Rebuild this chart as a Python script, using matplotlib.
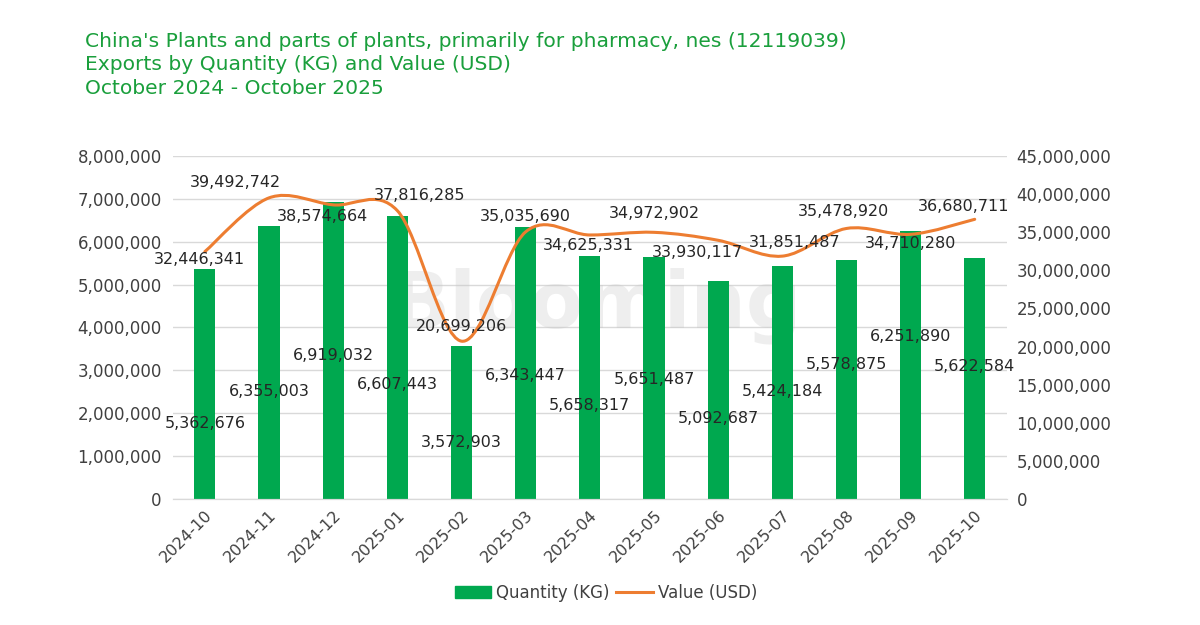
import matplotlib
matplotlib.use("Agg")
import matplotlib.pyplot as plt
from matplotlib.path import Path
from matplotlib.patches import PathPatch, Patch
from matplotlib.lines import Line2D
from matplotlib.ticker import MultipleLocator, FuncFormatter

plt.rcParams['font.family'] = ['DejaVu Sans']

# data
months = ['2024-10', '2024-11', '2024-12', '2025-01', '2025-02', '2025-03', '2025-04',
          '2025-05', '2025-06', '2025-07', '2025-08', '2025-09', '2025-10']
quantity_kg = [5362676, 6355003, 6919032, 6607443, 3572903, 6343447, 5658317,
               5651487, 5092687, 5424184, 5578875, 6251890, 5622584]
value_usd = [32446341, 39492742, 38574664, 37816285, 20699206, 35035690, 34625331,
             34972902, 33930117, 31851487, 35478920, 34710280, 36680711]

# where the data labels sit (Excel placed them a bit all over the place)
qty_label_y = [1.75e6, 2.50e6, 3.34e6, 2.68e6, 1.31e6, 2.89e6, 2.17e6,
               2.78e6, 1.87e6, 2.50e6, 3.13e6, 3.78e6, 3.08e6]
val_label_dx = [-0.08, -0.52, -0.17, 0.34, 0.0, 0.0, -0.03,
                0.0, -0.33, 0.2, -0.05, 0.0, -0.17]
val_label_y = [31.4e6, 41.5e6, 37.0e6, 39.75e6, 22.6e6, 37.1e6, 33.3e6,
               37.5e6, 32.3e6, 33.7e6, 37.65e6, 33.45e6, 38.3e6]

GREEN = '#00a84f'
ORANGE = '#ed7d31'
TITLE_GREEN = '#1a9f3c'
TXT = '#262626'
GRID = '#d9d9d9'


def smooth_path(xs, ys):
    # excel style smoothed line: catmull-rom as cubic bezier segments
    pts = list(zip(xs, ys))
    n = len(pts)
    verts = [pts[0]]
    codes = [Path.MOVETO]
    for i in range(n - 1):
        p0 = pts[i - 1] if i > 0 else pts[i]
        p1 = pts[i]
        p2 = pts[i + 1]
        p3 = pts[i + 2] if i + 2 < n else pts[i + 1]
        c1 = (p1[0] + (p2[0] - p0[0]) / 6, p1[1] + (p2[1] - p0[1]) / 6)
        c2 = (p2[0] - (p3[0] - p1[0]) / 6, p2[1] - (p3[1] - p1[1]) / 6)
        verts += [c1, c2, p2]
        codes += [Path.CURVE4] * 3
    return Path(verts, codes)


fig = plt.figure(figsize=(12, 6.25), dpi=100)
ax = fig.add_axes([0.144, 0.2016, 0.695, 0.549])
ax2 = ax.twinx()

x = list(range(len(months)))
ax.bar(x, quantity_kg, width=0.33, color=GREEN, zorder=2)

ax.set_xlim(-0.5, 12.5)
ax.set_ylim(0, 8e6)
ax2.set_ylim(0, 45e6)
ax.yaxis.set_major_locator(MultipleLocator(1e6))
ax2.yaxis.set_major_locator(MultipleLocator(5e6))
fmt = FuncFormatter(lambda v, _: f'{v:,.0f}')
ax.yaxis.set_major_formatter(fmt)
ax2.yaxis.set_major_formatter(fmt)

ax.grid(axis='y', color=GRID, lw=1)
ax.set_axisbelow(True)
for a in (ax, ax2):
    for s in ('top', 'left', 'right'):
        a.spines[s].set_visible(False)
    a.spines['bottom'].set_color(GRID)
    a.tick_params(length=0, labelsize=12, labelcolor='#404040')
ax.tick_params(axis='y', pad=8)
ax2.tick_params(axis='y', pad=7)

ax.set_xticks(x)
ax.set_xticklabels(months, rotation=45, ha='right', rotation_mode='anchor', fontsize=11.5)
ax.tick_params(axis='x', pad=6)

# faint watermark
ax.text(6.1, 4.5e6, 'Blooming', fontsize=56, fontweight='bold', color='#c8c8c8',
        alpha=0.3, ha='center', va='center', zorder=1)

ax2.add_patch(PathPatch(smooth_path(x, value_usd), fill=False, edgecolor=ORANGE,
                        lw=2.2, capstyle='round', zorder=3))

for i in x:
    ax.text(i, qty_label_y[i], f'{quantity_kg[i]:,}', ha='center', va='center',
            fontsize=11.5, color=TXT, zorder=4)
    ax2.text(i + val_label_dx[i], val_label_y[i], f'{value_usd[i]:,}', ha='center',
             va='center', fontsize=11.5, color=TXT, zorder=4)

fig.text(0.071, 0.933, "China's Plants and parts of plants, primarily for pharmacy, nes (12119039)",
         color=TITLE_GREEN, fontsize=14.6, va='center')
fig.text(0.071, 0.896, 'Exports by Quantity (KG) and Value (USD)',
         color=TITLE_GREEN, fontsize=14.6, va='center')
fig.text(0.071, 0.858, 'October 2024 - October 2025',
         color=TITLE_GREEN, fontsize=14.6, va='center')

handles = [Patch(color=GREEN, label='Quantity (KG)'),
           Line2D([0], [0], color=ORANGE, lw=2.2, label='Value (USD)')]
fig.legend(handles=handles, loc='center', bbox_to_anchor=(0.505, 0.051), ncol=2,
           frameon=False, fontsize=12, handlelength=2.2, handletextpad=0.3,
           columnspacing=0.4, labelcolor='#404040')

fig.savefig('out.png', dpi=100)
